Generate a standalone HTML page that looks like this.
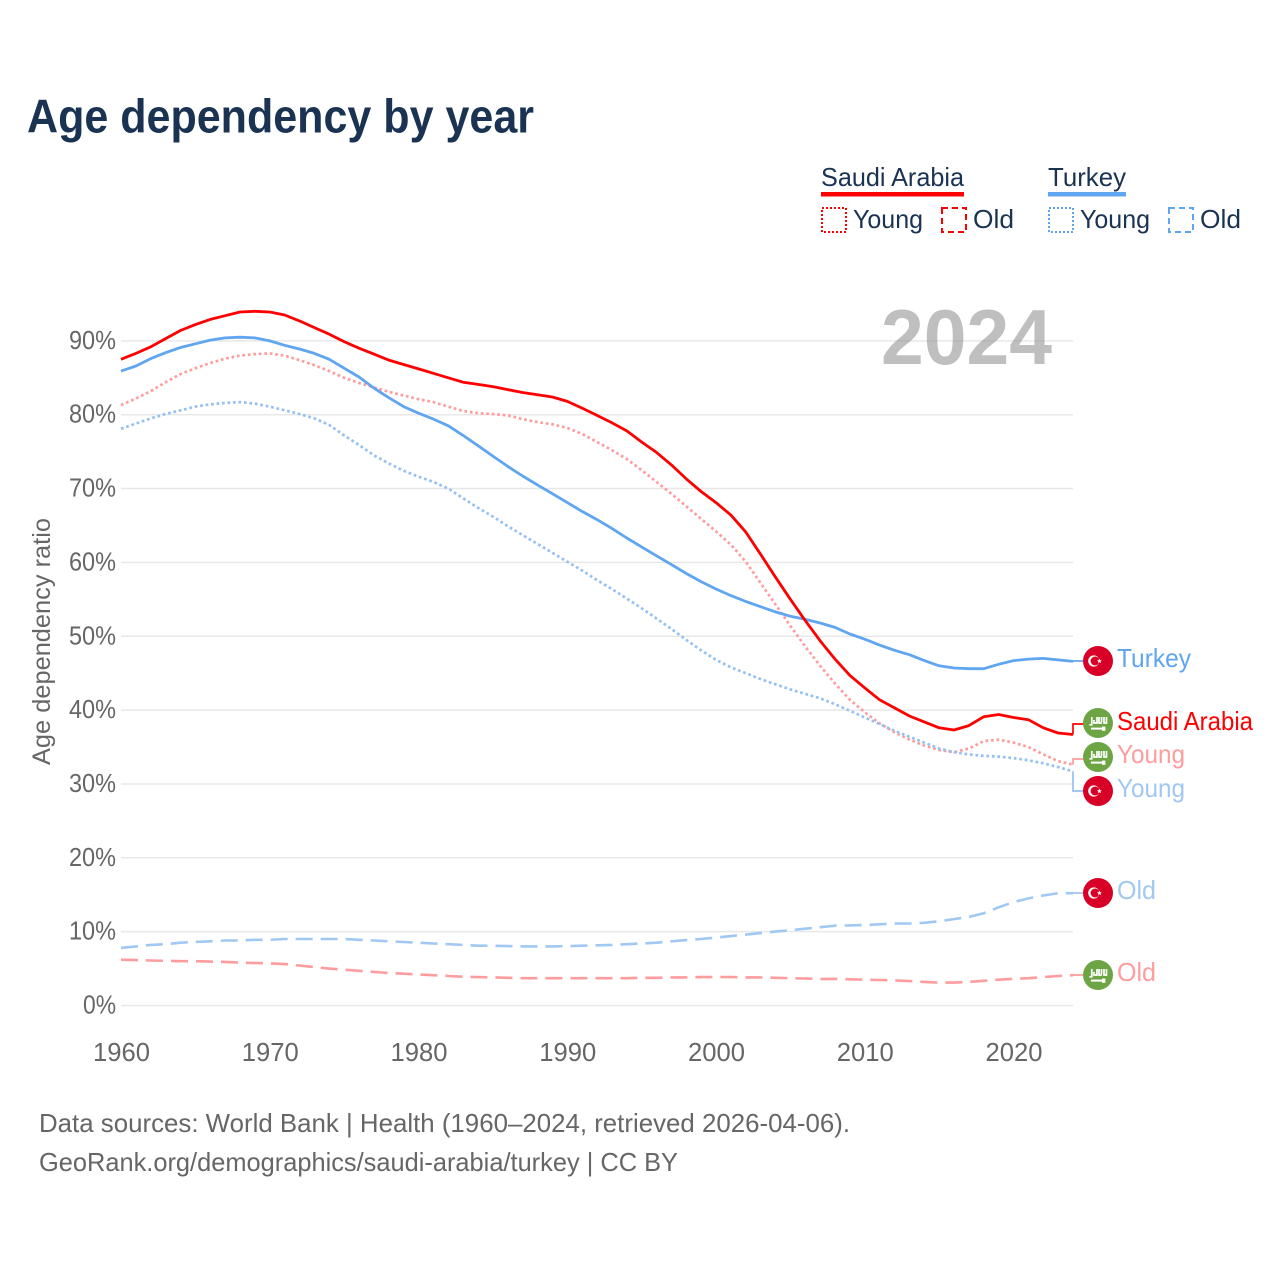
<!DOCTYPE html>
<html lang="en">
<head>
<meta charset="utf-8">
<title>Age dependency by year</title>
<style>
html,body{margin:0;padding:0;background:#fff;}
svg{display:block;font-family:"Liberation Sans",sans-serif;}
</style>
</head>
<body>
<svg id="chart" xmlns="http://www.w3.org/2000/svg" width="1280" height="1280" viewBox="0 0 1280 1280">
<defs>
<symbol id="flag-tr" viewBox="-15 -15 30 30" overflow="visible">
<circle r="15" fill="#d80027"/>
<circle cx="-4.2" r="5.6" fill="#fff"/>
<circle cx="-2.9" r="4.5" fill="#d80027"/>
<polygon points="1.4,-2.5 2.1,-0.8 3.9,-0.8 2.5,0.3 3,2.1 1.4,1.1 -0.2,2.1 0.3,0.3 -1.1,-0.8 0.7,-0.8" fill="#fff"/>
</symbol>
<symbol id="flag-sa" viewBox="-15 -15 30 30" overflow="visible">
<circle r="15" fill="#6da544"/>
<path d="M-8.7 1.8 H-6.2 V-6 M-4 -3 V0 H-1 V-6 M1 -6 V0 H4 M3.5 -6 V-1 M6 -6 V0 H8.5 V-6" fill="none" stroke="#fff" stroke-width="1.7"/>
<rect x="-7" y="4.6" width="12" height="2" fill="#fff"/>
<rect x="4" y="3.6" width="3.4" height="4.2" fill="#fff"/>
</symbol>
</defs>

<text x="27" y="132.5" font-size="47" font-weight="700" fill="#1a3352" textLength="507" lengthAdjust="spacingAndGlyphs">Age dependency by year</text>

<g id="legend" fill="#1a3352" font-size="26">
<text x="821" y="186" textLength="143" lengthAdjust="spacingAndGlyphs">Saudi Arabia</text>
<rect x="821" y="192" width="143" height="4.5" fill="#ff0000"/>
<rect x="822" y="208" width="24" height="24" fill="none" stroke="#ff0000" stroke-width="2" stroke-dasharray="2 2"/>
<text x="853" y="228" textLength="70" lengthAdjust="spacingAndGlyphs">Young</text>
<rect x="942" y="208" width="24" height="24" fill="none" stroke="#ff0000" stroke-width="2" stroke-dasharray="6 4"/>
<text x="973" y="228" textLength="41" lengthAdjust="spacingAndGlyphs">Old</text>
<text x="1048" y="186" textLength="78" lengthAdjust="spacingAndGlyphs">Turkey</text>
<rect x="1048" y="192" width="78" height="4.5" fill="#5fa5ef"/>
<rect x="1049" y="208" width="24" height="24" fill="none" stroke="#5fa5ef" stroke-width="2" stroke-dasharray="2 2"/>
<text x="1080" y="228" textLength="70" lengthAdjust="spacingAndGlyphs">Young</text>
<rect x="1169" y="208" width="24" height="24" fill="none" stroke="#5fa5ef" stroke-width="2" stroke-dasharray="6 4"/>
<text x="1200" y="228" textLength="41" lengthAdjust="spacingAndGlyphs">Old</text>
</g>

<g id="grid"></g>
<g id="yticks"></g>
<g id="xticks"></g>

<text transform="translate(50,641.5) rotate(-90)" text-anchor="middle" font-size="25" fill="#666666" textLength="247" lengthAdjust="spacingAndGlyphs">Age dependency ratio</text>
<text x="881" y="364" font-size="78" font-weight="700" fill="#808080" fill-opacity="0.5" textLength="171" lengthAdjust="spacingAndGlyphs">2024</text>

<g id="series"></g>

<g id="end-markers" font-size="26">
<use href="#flag-tr" x="1083" y="646" width="30" height="30"/>
<text x="1117" y="667" fill="#5fa5ef" textLength="74" lengthAdjust="spacingAndGlyphs">Turkey</text>
<use href="#flag-sa" x="1083" y="708" width="30" height="30"/>
<text x="1117" y="730" fill="#ff0000" textLength="136" lengthAdjust="spacingAndGlyphs">Saudi Arabia</text>
<use href="#flag-sa" x="1083" y="742" width="30" height="30"/>
<text x="1117" y="763" fill="#ff9c9e" textLength="68" lengthAdjust="spacingAndGlyphs">Young</text>
<use href="#flag-tr" x="1083" y="776" width="30" height="30"/>
<text x="1117" y="797" fill="#a0c8f3" textLength="68" lengthAdjust="spacingAndGlyphs">Young</text>
<use href="#flag-tr" x="1083" y="878" width="30" height="30"/>
<text x="1117" y="899" fill="#a0c8f3" textLength="39" lengthAdjust="spacingAndGlyphs">Old</text>
<use href="#flag-sa" x="1083" y="960" width="30" height="30"/>
<text x="1117" y="981" fill="#ff9c9e" textLength="39" lengthAdjust="spacingAndGlyphs">Old</text>
</g>

<g font-size="26" fill="#666666">
<text x="39" y="1132" textLength="811" lengthAdjust="spacingAndGlyphs">Data sources: World Bank | Health (1960–2024, retrieved 2026-04-06).</text>
<text x="39" y="1171" textLength="639" lengthAdjust="spacingAndGlyphs">GeoRank.org/demographics/saudi-arabia/turkey | CC BY</text>
</g>
</svg>

<script>
const startYear = 1960;
const endYear = 2024;
const yTickValues = [0, 10, 20, 30, 40, 50, 60, 70, 80, 90];
const xTickYears = [1960, 1970, 1980, 1990, 2000, 2010, 2020];

const saudiTotal = [
  87.5, 88.3, 89.2, 90.3, 91.4, 92.2, 92.9, 93.4, 93.9, 94.0,
  93.9, 93.5, 92.7, 91.8, 90.9, 89.9, 89.0, 88.2, 87.4, 86.8,
  86.2, 85.6, 85.0, 84.4, 84.1, 83.8, 83.4, 83.0, 82.7, 82.4,
  81.8, 80.9, 79.9, 78.9, 77.8, 76.3, 74.9, 73.2, 71.3, 69.6,
  68.1, 66.4, 64.1, 61.1, 58.0, 55.0, 52.1, 49.4, 46.9, 44.7,
  43.0, 41.4, 40.3, 39.2, 38.4, 37.6, 37.3, 37.9, 39.1, 39.4,
  39.0, 38.7, 37.6, 36.9, 36.7
];
const saudiYoung = [
  81.3, 82.2, 83.2, 84.4, 85.5, 86.3, 87.0, 87.6, 88.0, 88.2,
  88.3, 88.0, 87.4, 86.7, 85.9, 85.0, 84.3, 83.7, 83.1, 82.6,
  82.1, 81.7, 81.1, 80.5, 80.2, 80.1, 79.9, 79.4, 79.0, 78.7,
  78.2, 77.4, 76.3, 75.2, 74.0, 72.5, 70.9, 69.3, 67.6, 65.9,
  64.2, 62.4, 60.1, 57.2, 54.3, 51.4, 48.6, 46.0, 43.6, 41.4,
  39.7, 38.2, 37.0, 36.0, 35.2, 34.6, 34.3, 34.8, 35.8, 36.0,
  35.6, 35.0, 34.0, 33.1, 32.6
];
const saudiOld = [
  6.2, 6.15, 6.1, 6.05, 6.0, 6.0, 5.95, 5.9, 5.8, 5.75,
  5.7, 5.6, 5.4, 5.2, 5.0, 4.85, 4.7, 4.55, 4.4, 4.3,
  4.2, 4.1, 4.0, 3.9, 3.85, 3.8, 3.75, 3.7, 3.7, 3.7,
  3.7, 3.7, 3.7, 3.7, 3.7, 3.75, 3.75, 3.8, 3.8, 3.85,
  3.85, 3.85, 3.8, 3.8, 3.75, 3.7, 3.65, 3.6, 3.6, 3.55,
  3.5, 3.45, 3.4, 3.3, 3.2, 3.1, 3.1, 3.2, 3.35, 3.5,
  3.6, 3.7, 3.85, 4.0, 4.1
];
const turkeyTotal = [
  85.9, 86.6, 87.6, 88.4, 89.1, 89.6, 90.1, 90.4, 90.5, 90.4,
  90.0, 89.4, 88.9, 88.3, 87.5, 86.3, 85.1, 83.6, 82.3, 81.1,
  80.2, 79.4, 78.5, 77.2, 75.8, 74.4, 73.0, 71.7, 70.5, 69.3,
  68.1, 66.9, 65.8, 64.6, 63.3, 62.1, 60.9, 59.7, 58.5, 57.4,
  56.4, 55.5, 54.7, 54.0, 53.3, 52.7, 52.3, 51.8, 51.2, 50.3,
  49.6, 48.8, 48.1, 47.5, 46.7, 46.0, 45.7, 45.6, 45.6, 46.2,
  46.7, 46.9, 47.0, 46.8, 46.6
];
const turkeyYoung = [
  78.1, 78.8, 79.5, 80.1, 80.6, 81.1, 81.4, 81.6, 81.7, 81.5,
  81.1, 80.6, 80.1, 79.5, 78.6, 77.2, 75.9, 74.5, 73.4, 72.4,
  71.6, 70.9, 70.0, 68.7, 67.4, 66.2, 64.9, 63.7, 62.5, 61.3,
  60.1, 58.9, 57.6, 56.4, 55.1, 53.8, 52.4, 51.0, 49.5, 48.1,
  46.8, 45.8, 45.0, 44.2, 43.5, 42.8, 42.2, 41.6, 40.8, 39.9,
  39.0, 38.1, 37.2, 36.4, 35.6, 34.8, 34.3, 34.0, 33.8, 33.7,
  33.5, 33.2, 32.8, 32.3, 31.7
];
const turkeyOld = [
  7.8, 8.0, 8.2, 8.3, 8.5, 8.6, 8.7, 8.8, 8.8, 8.9,
  8.9, 9.0, 9.0, 9.0, 9.0, 9.0, 8.9, 8.8, 8.7, 8.6,
  8.5, 8.4, 8.3, 8.2, 8.1, 8.1, 8.05, 8.0, 8.0, 8.0,
  8.05, 8.1, 8.15, 8.2, 8.3, 8.4, 8.5, 8.7, 8.85, 9.0,
  9.2, 9.4, 9.6, 9.8, 10.0, 10.2, 10.4, 10.6, 10.8, 10.85,
  10.9, 11.0, 11.1, 11.1, 11.2, 11.4, 11.7, 12.0, 12.5, 13.3,
  14.0, 14.5, 14.9, 15.2, 15.2
];

const SVGNS = 'http://www.w3.org/2000/svg';
function xScale(year) { return 121 + (year - startYear) * (1073 - 121) / (endYear - startYear); }
function yScale(v) { return 1005.5 - v * 7.385; }

const grid = document.getElementById('grid');
const yticks = document.getElementById('yticks');
const xticks = document.getElementById('xticks');
yTickValues.forEach(function (v) {
  const ln = document.createElementNS(SVGNS, 'line');
  
  
  ln.setAttribute('x1', 121);
  ln.setAttribute('x2', 1073);
  ln.setAttribute('y1', yScale(v));
  ln.setAttribute('y2', yScale(v));
  ln.setAttribute('stroke', '#e8e8e8');
  ln.setAttribute('stroke-width', '1.5');
  grid.appendChild(ln);
  const t = document.createElementNS(SVGNS, 'text');
  
  
  t.setAttribute('x', 116);
  t.setAttribute('y', yScale(v) + 8);
  t.setAttribute('text-anchor', 'end');
  t.setAttribute('font-size', '25.5');
  t.setAttribute('fill', '#666666');
  t.setAttribute('textLength', v === 0 ? 33 : 47);
  t.setAttribute('lengthAdjust', 'spacingAndGlyphs');
  t.textContent = v + '%';
  yticks.appendChild(t);
});
xTickYears.forEach(function (yr) {
  const t = document.createElementNS(SVGNS, 'text');
  
  
  t.setAttribute('x', xScale(yr) + 0.5);
  t.setAttribute('y', 1061);
  t.setAttribute('text-anchor', 'middle');
  t.setAttribute('font-size', '25.6');
  t.setAttribute('fill', '#666666');
  t.textContent = yr;
  xticks.appendChild(t);
});

const seriesGroup = document.getElementById('series');
function drawSeries(name, values, color, width, dash, stepY) {
  const pts = values.map(function (v, i) { return xScale(startYear + i).toFixed(1) + ',' + yScale(v).toFixed(1); });
  const p = document.createElementNS(SVGNS, 'polyline');
  
  
  p.setAttribute('points', pts.join(' '));
  p.setAttribute('fill', 'none');
  p.setAttribute('stroke', color);
  p.setAttribute('stroke-width', width);
  p.setAttribute('stroke-linejoin', 'round');
  if (dash) p.setAttribute('stroke-dasharray', dash);
  seriesGroup.appendChild(p);
  const last = values[values.length - 1];
  const lastX = xScale(startYear + values.length - 1);
  const c = document.createElementNS(SVGNS, 'polyline');
  
  
  c.setAttribute('points', lastX.toFixed(1) + ',' + yScale(last).toFixed(1) + ' ' + stepY + ' 1084,' + stepY.split(',')[1]);
  c.setAttribute('fill', 'none');
  c.setAttribute('stroke', color);
  c.setAttribute('stroke-width', 1.7);
  seriesGroup.appendChild(c);
}
drawSeries('saudi-old-line', saudiOld, '#ff9c9e', 2.6, '17 8', '1073,975');
drawSeries('turkey-old-line', turkeyOld, '#a0c8f3', 2.6, '17 8', '1073,893');
drawSeries('saudi-young-line', saudiYoung, '#ff9c9e', 2.7, '2.7 2.8', '1073,759');
drawSeries('turkey-young-line', turkeyYoung, '#94c1f3', 2.7, '2.7 2.8', '1073,791');
drawSeries('turkey-total-line', turkeyTotal, '#5fa5ef', 2.8, null, '1073,661');
drawSeries('saudi-total-line', saudiTotal, '#ff0000', 2.8, null, '1073,724');
</script>
</body>
</html>
